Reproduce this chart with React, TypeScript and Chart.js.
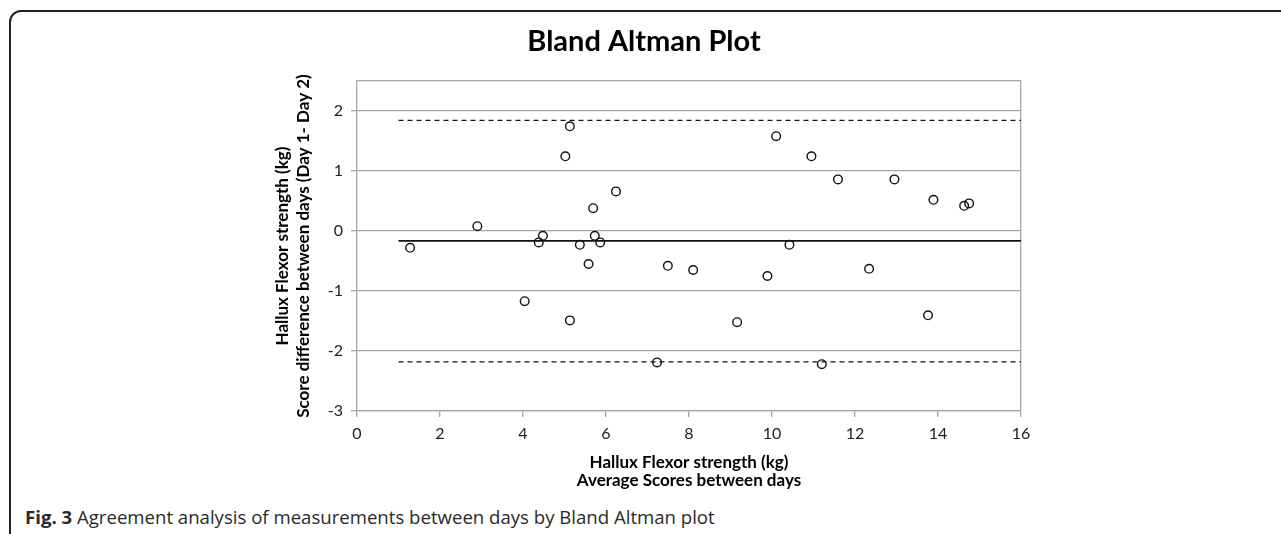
import React, { useEffect, useRef } from "react";
import { Chart, registerables } from "chart.js";

Chart.register(...registerables);

const averages = [1.28, 2.9, 4.04, 4.38, 4.48, 5.02, 5.13, 5.13, 5.37, 5.58, 5.69, 5.73, 5.86, 6.24, 7.23, 7.49, 8.1, 9.16, 9.89, 10.1, 10.42, 10.95, 11.2, 11.59, 12.34, 12.95, 13.76, 13.89, 14.63, 14.75];
const differences = [-0.28, 0.08, -1.17, -0.19, -0.08, 1.245, 1.745, -1.49, -0.23, -0.55, 0.38, -0.08, -0.19, 0.66, -2.19, -0.58, -0.65, -1.52, -0.75, 1.58, -0.23, 1.245, -2.22, 0.86, -0.63, 0.86, -1.405, 0.52, 0.42, 0.46];
const meanDiff = -0.165;
const upperLoA = 1.845;
const lowerLoA = -2.18;
const lineRange = [1, 16];
const xTicks = { min: 0, max: 16, step: 2 };
const yTicks = { min: -3, max: 2.5, step: 1 };

const GRAY = "#a6a6a6";
const FONT = "Lato, 'Open Sans', sans-serif";

function BlandAltman() {
  const ref = useRef<HTMLCanvasElement | null>(null);
  useEffect(() => {
    if (!ref.current) return;
    const points = averages.map((x, i) => ({ x, y: differences[i] }));
    const hline = (v: number) => lineRange.map((x) => ({ x, y: v }));
    const chart = new Chart(ref.current, {
      type: "scatter",
      data: {
        datasets: [
          {
            label: "Differences",
            data: points,
            pointRadius: 4.3,
            pointBorderWidth: 1.4,
            pointBorderColor: "#111",
            pointBackgroundColor: "rgba(0,0,0,0)",
            showLine: false,
            order: 0,
          },
          {
            label: "Mean",
            data: hline(meanDiff),
            showLine: true,
            borderColor: "#111",
            borderWidth: 1.6,
            pointRadius: 0,
            order: 1,
          },
          {
            label: "Upper LoA",
            data: hline(upperLoA),
            showLine: true,
            borderColor: "#111",
            borderWidth: 1.3,
            borderDash: [5, 4],
            pointRadius: 0,
            order: 1,
          },
          {
            label: "Lower LoA",
            data: hline(lowerLoA),
            showLine: true,
            borderColor: "#111",
            borderWidth: 1.3,
            borderDash: [5, 4],
            pointRadius: 0,
            order: 1,
          },
        ],
      },
      options: {
        responsive: false,
        animation: false,
        devicePixelRatio: 1,
        layout: { padding: { left: 267, right: 260, top: 0, bottom: 9 } },
        plugins: {
          legend: { display: false },
          tooltip: { enabled: false },
          title: {
            display: true,
            text: "Bland Altman Plot",
            color: "#000",
            font: { family: FONT, size: 29, weight: "bold", lineHeight: 1.2 },
            padding: { top: 24.6, bottom: 21.6 },
          },
        },
        scales: {
          x: {
            type: "linear",
            min: xTicks.min,
            max: xTicks.max,
            afterFit: (s: any) => {
              s.height = 80;
            },
            ticks: {
              stepSize: xTicks.step,
              color: "#222",
              font: { family: FONT, size: 16 },
              padding: 7,
              maxRotation: 0,
            },
            grid: {
              color: (c: any) => (c.tick && c.tick.value === xTicks.max ? GRAY : "rgba(0,0,0,0)"),
              tickColor: GRAY,
              tickLength: 6,
              lineWidth: 1.3,
            },
            border: { color: GRAY, width: 1.3 },
            title: {
              display: true,
              text: ["Hallux Flexor strength (kg)", "Average Scores between days"],
              color: "#000",
              font: { family: FONT, size: 17, weight: "bold", lineHeight: 1.05 },
              padding: { top: 0, bottom: 2 },
            },
          },
          y: {
            type: "linear",
            min: yTicks.min,
            max: yTicks.max,
            afterFit: (s: any) => {
              s.width = 90;
            },
            ticks: {
              stepSize: yTicks.step,
              color: "#222",
              font: { family: FONT, size: 16 },
              padding: 8,
              callback: (v: any) => (Number.isInteger(v) ? String(v) : ""),
            },
            grid: {
              color: GRAY,
              tickColor: (c: any) => (c.tick && Number.isInteger(c.tick.value) ? GRAY : "rgba(0,0,0,0)"),
              tickLength: 6,
              lineWidth: 1.3,
            },
            border: { color: GRAY, width: 1.3 },
            title: {
              display: true,
              text: ["Hallux Flexor strength (kg)", "Score difference between days (Day 1- Day 2)"],
              color: "#000",
              font: { family: FONT, size: 17, weight: "bold", lineHeight: 1.2 },
              padding: { top: 5.5, bottom: 0 },
            },
          },
        },
      },
    });
    return () => chart.destroy();
  }, []);
  return (
    <canvas
      ref={ref}
      width={1281}
      height={500}
      style={{ position: "absolute", left: 0, top: 0, width: 1281, height: 500 }}
    />
  );
}

export default function App() {
  return (
    <div
      style={{
        position: "fixed",
        left: 0,
        top: 0,
        width: 1281,
        height: 534,
        overflow: "hidden",
        background: "#fff",
      }}
    >
      <div
        style={{
          position: "absolute",
          left: 9,
          top: 10,
          width: 1400,
          height: 700,
          border: "2px solid #222",
          borderTopLeftRadius: 12,
          boxSizing: "border-box",
        }}
      />
      <BlandAltman />
      <div
        style={{
          position: "absolute",
          left: 25,
          top: 505,
          fontFamily: "'Open Sans', sans-serif",
          fontSize: 18.6,
          color: "#2a2a2a",
          whiteSpace: "nowrap",
          lineHeight: "24px",
        }}
      >
        <b>Fig. 3</b> Agreement analysis of measurements between days by Bland Altman plot
      </div>
    </div>
  );
}
